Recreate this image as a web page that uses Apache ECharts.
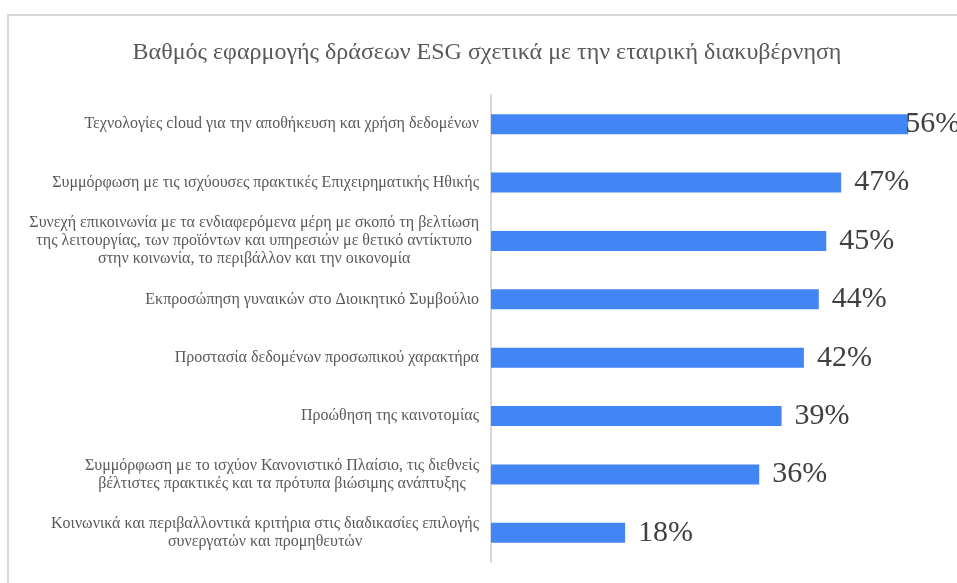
<!DOCTYPE html>
<html>
<head>
<meta charset="utf-8">
<script src="https://cdn.jsdelivr.net/npm/echarts@6/dist/echarts.min.js"></script>
<style>
html,body{margin:0;padding:0;background:#fff;}
#chart{width:957px;height:583px;}
</style>
</head>
<body>
<div id="chart"></div>
<script>
var title = "Βαθμός εφαρμογής δράσεων ESG σχετικά με την εταιρική διακυβέρνηση";
// από πάνω προς τα κάτω
var categories = [
	"Τεχνολογίες cloud για την αποθήκευση και χρήση δεδομένων",
	"Συμμόρφωση με τις ισχύουσες πρακτικές Επιχειρηματικής Ηθικής",
	"Συνεχή επικοινωνία με τα ενδιαφερόμενα μέρη με σκοπό τη βελτίωση\nτης λειτουργίας, των προϊόντων και υπηρεσιών με θετικό αντίκτυπο\nστην κοινωνία, το περιβάλλον και την οικονομία",
	"Εκπροσώπηση γυναικών στο Διοικητικό Συμβούλιο",
	"Προστασία δεδομένων προσωπικού χαρακτήρα",
	"Προώθηση της καινοτομίας",
	"Συμμόρφωση με το ισχύον Κανονιστικό Πλαίσιο, τις διεθνείς\nβέλτιστες πρακτικές και τα πρότυπα βιώσιμης ανάπτυξης",
	"Κοινωνικά και περιβαλλοντικά κριτήρια στις διαδικασίες επιλογής\nσυνεργατών και προμηθευτών"
];
var values = [56, 47, 45, 44, 42, 39, 36, 18];

var mychart = echarts.init(document.getElementById("chart"));
var serif = "'Liberation Serif','DejaVu Serif',serif";

// η πρώτη μπάρα φτάνει στην άκρη, η ετικέτα μπαίνει λίγο πιο μέσα
var seriesData = values.map(function(v, i) {
	var item = { value: v };
	if (i == 0) {
		item.label = { offset: [-16, 0] };
	}
	return item;
});

var option = {
	animation: false,
	graphic: [{
		type: "rect",
		shape: { x: 8, y: 15, width: 1000, height: 620 },
		style: { fill: "none", stroke: "#d9d9d9", lineWidth: 2 },
		silent: true
	}],
	title: {
		text: title,
		left: 482,
		textAlign: "center",
		top: 36,
		textStyle: {
			color: "#595959",
			fontFamily: serif,
			fontSize: 24,
			fontWeight: "normal"
		}
	},
	grid: {
		left: 491,
		right: 19,
		top: 95,
		bottom: 21
	},
	xAxis: {
		type: "value",
		min: 0,
		max: 60,
		show: false
	},
	yAxis: {
		type: "category",
		inverse: true,
		data: categories,
		axisTick: { show: false },
		axisLine: {
			lineStyle: { color: "#d9d9d9", width: 2 }
		},
		axisLabel: {
			margin: 12,
			color: "#595959",
			fontFamily: serif,
			fontSize: 16,
			lineHeight: 18,
			formatter: function(val) {
				return val.split("\n").map(function(s) {
					return "{c|" + s + "}";
				}).join("\n");
			},
			rich: {
				c: {
					align: "center",
					color: "#595959",
					fontFamily: serif,
					fontSize: 16,
					lineHeight: 18
				}
			}
		}
	},
	series: [{
		type: "bar",
		data: seriesData,
		barWidth: 20,
		itemStyle: { color: "#4285f4" },
		label: {
			show: true,
			position: "right",
			distance: 13,
			color: "#404040",
			fontFamily: serif,
			fontSize: 30,
			formatter: "{c}%"
		}
	}]
};
mychart.setOption(option);
</script>
</body>
</html>
